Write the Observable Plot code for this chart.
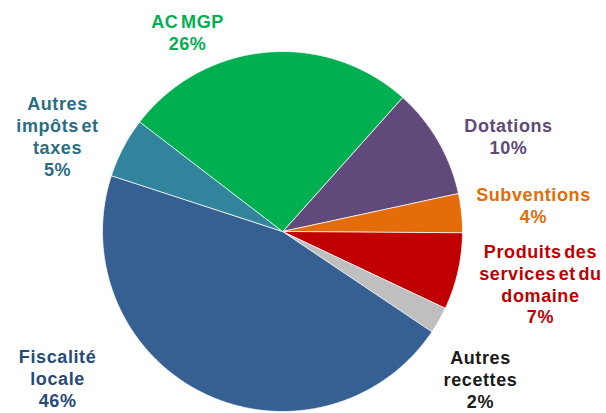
<!DOCTYPE html>
<html>
<head>
<meta charset="utf-8">
<script src="https://cdn.jsdelivr.net/npm/d3@7"></script>
<script src="https://cdn.jsdelivr.net/npm/@observablehq/plot@0.6"></script>
<style>
  html, body { margin: 0; padding: 0; background: #fff; }
  #chart svg text { letter-spacing: 0.6px; word-spacing: -3px; }
</style>
</head>
<body>
<div id="chart"></div>
<script>
// Data (clockwise from the AC MGP / Dotations boundary)
const categories = ["Dotations", "Subventions", "Produits des services et du domaine", "Autres recettes", "Fiscalité locale", "Autres impôts et taxes", "AC MGP"];
const labelLines = ["Dotations", "Subventions", "Produits des\nservices et du\ndomaine", "Autres\nrecettes", "Fiscalité\nlocale", "Autres\nimpôts et\ntaxes", "AC MGP"];
const values = [10.0, 3.5, 6.9, 2.4, 45.6, 5.4, 26.2];
const sliceColors = ["#604A7B", "#E46C0A", "#C00000", "#BFBFBF", "#376092", "#31849B", "#00B050"];
const labelColors = ["#5F497A", "#E46C0A", "#C00000", "#1A1A1A", "#284A78", "#2A6D85", "#00B050"];

// Layout (not data): pie start angle and label placement (polar, in radius units)
const startDeg = 41.8;
const labelAngleDeg = [67.0, 83.9, 101.4, 126.6, 237.0, 293.0, 334.6];
const labelRadius = [1.364, 1.402, 1.462, 1.370, 1.49, 1.358, 1.23];

const W = 606, H = 413, cx = 282, cy = 231, R = 180;
const rad = Math.PI / 180;

const pie = d3.pie().sort(null).value(d => d)
  .startAngle(startDeg * rad).endAngle(startDeg * rad + 2 * Math.PI);
const arcs = pie(values);

const slicePts = [];
arcs.forEach((a, i) => {
  slicePts.push({name: categories[i], color: sliceColors[i], x: 0, y: 0});
  const n = Math.max(2, Math.ceil((a.endAngle - a.startAngle) / (0.4 * rad)));
  for (let k = 0; k <= n; k++) {
    const t = a.startAngle + (a.endAngle - a.startAngle) * k / n;
    slicePts.push({name: categories[i], color: sliceColors[i], x: Math.sin(t), y: Math.cos(t)});
  }
});

const labels = arcs.map((a, i) => {
  const t = labelAngleDeg[i] * rad;
  return {
    text: `${labelLines[i]}\n${Math.round(values[i])}%`,
    color: labelColors[i],
    x: labelRadius[i] * Math.sin(t),
    y: labelRadius[i] * Math.cos(t)
  };
});

const chart = Plot.plot({
  width: W,
  height: H,
  margin: 0,
  x: {domain: [-cx / R, (W - cx) / R], axis: null},
  y: {domain: [-(H - cy) / R, cy / R], axis: null},
  color: {type: "identity"},
  marks: [
    Plot.line(slicePts, {x: "x", y: "y", z: "name", fill: "color", stroke: "white", strokeWidth: 0.8, curve: "linear-closed"}),
    Plot.text(labels, {
      x: "x", y: "y", text: "text", fill: "color",
      fontSize: 18, fontWeight: "bold", fontFamily: "'Liberation Sans', Arial, sans-serif",
      lineHeight: 1.22, textAnchor: "middle", lineAnchor: "middle"
    })
  ]
});
document.getElementById("chart").appendChild(chart);
</script>
</body>
</html>
